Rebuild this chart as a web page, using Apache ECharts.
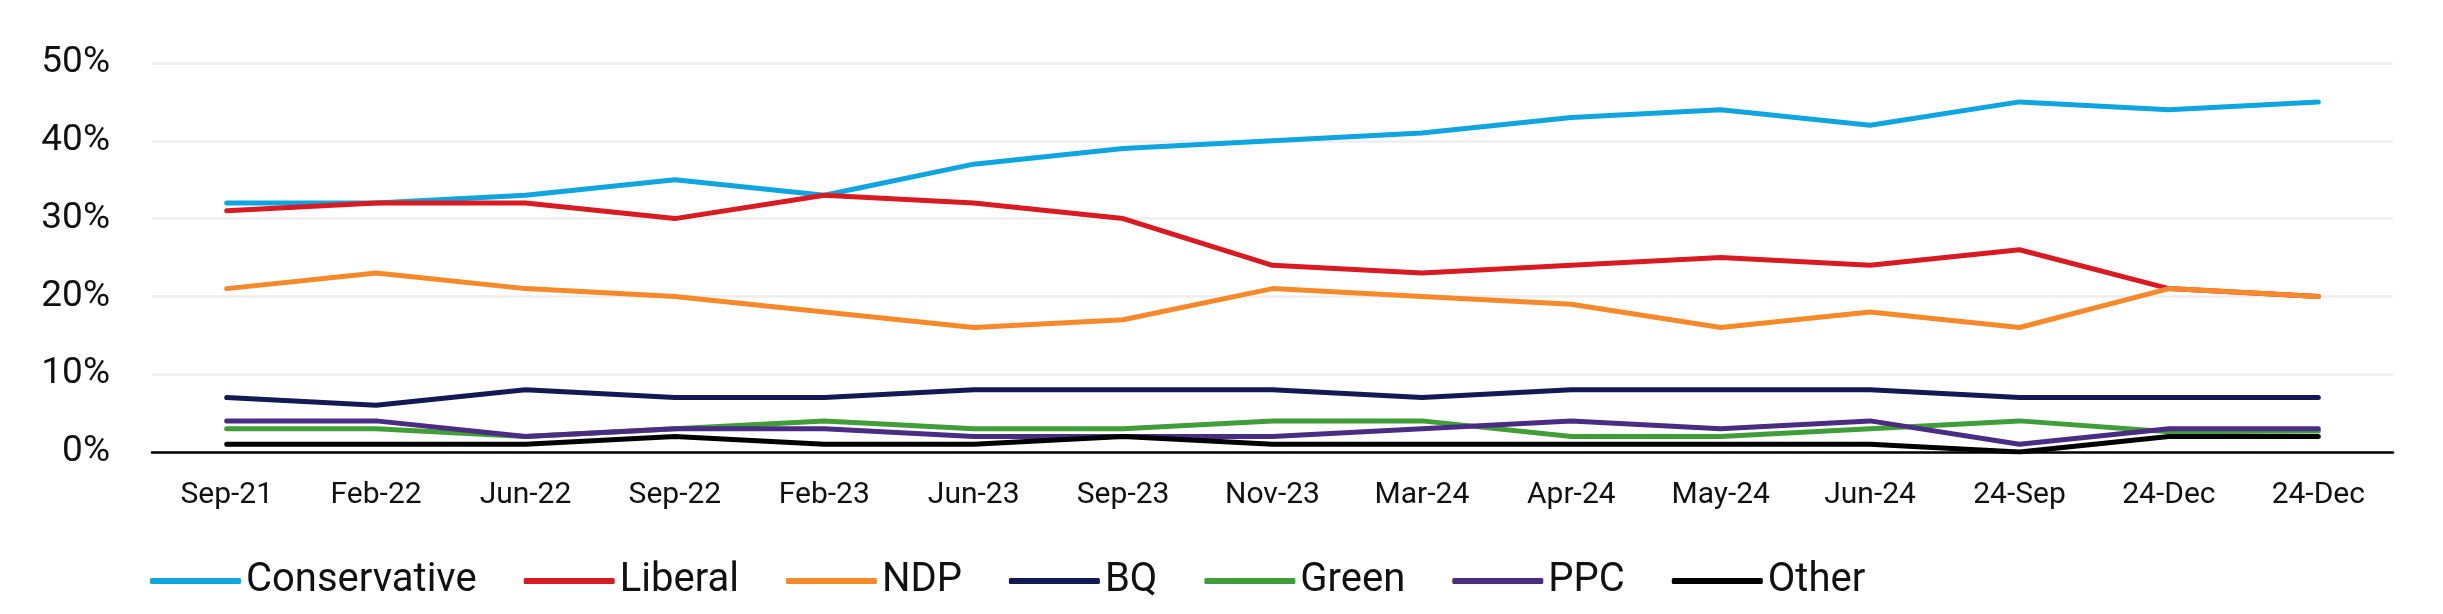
<!DOCTYPE html>
<html>
<head>
<meta charset="utf-8">
<script src="https://cdn.jsdelivr.net/npm/echarts@6/dist/echarts.min.js"></script>
<style>
  html, body { margin: 0; padding: 0; background: #ffffff; }
  #chart { width: 2443px; height: 614px; }
</style>
</head>
<body>
<div id="chart"></div>
<script>
const categories = ['Sep-21', 'Feb-22', 'Jun-22', 'Sep-22', 'Feb-23', 'Jun-23', 'Sep-23', 'Nov-23', 'Mar-24', 'Apr-24', 'May-24', 'Jun-24', '24-Sep', '24-Dec', '24-Dec'];
const conservative = [32, 32, 33, 35, 33, 37, 39, 40, 41, 43, 44, 42, 45, 44, 45];
const liberal      = [31, 32, 32, 30, 33, 32, 30, 24, 23, 24, 25, 24, 26, 21, 20];
const ndp          = [21, 23, 21, 20, 18, 16, 17, 21, 20, 19, 16, 18, 16, 21, 20];
const bq           = [7, 6, 8, 7, 7, 8, 8, 8, 7, 8, 8, 8, 7, 7, 7];
const green        = [3, 3, 2, 3, 4, 3, 3, 4, 4, 2, 2, 3, 4, 2.6, 2.7];
const ppc          = [4, 4, 2, 3, 3, 2, 2, 2, 3, 4, 3, 4, 1, 3, 3];
const other        = [1, 1, 1, 2, 1, 1, 2, 1, 1, 1, 1, 1, 0, 2, 2];
const yTicks = [0, 10, 20, 30, 40, 50];

const seriesDefs = [
  { name: 'Conservative', data: conservative, color: '#0ea5e1' },
  { name: 'Liberal', data: liberal, color: '#d91a21' },
  { name: 'NDP', data: ndp, color: '#f7892a' },
  { name: 'BQ', data: bq, color: '#111a55' },
  { name: 'Green', data: green, color: '#3f9e37' },
  { name: 'PPC', data: ppc, color: '#4b2c84' },
  { name: 'Other', data: other, color: '#000000' }
];

const FONT = 'Roboto, "Liberation Sans", sans-serif';
const chart = echarts.init(document.getElementById('chart'), null, { renderer: 'canvas' });
chart.setOption({
  animation: false,
  backgroundColor: '#ffffff',
  textStyle: { fontFamily: FONT },
  grid: { left: 152, right: 50, top: 63, bottom: 162, containLabel: false },
  legend: {
    show: true,
    orient: 'horizontal',
    left: 145,
    top: 556,
    width: 2200,
    icon: 'roundRect',
    itemWidth: 91,
    itemHeight: 6,
    itemGap: 47,
    textStyle: { fontSize: 40, color: '#111111', fontFamily: FONT },
    data: seriesDefs.map(s => s.name)
  },
  xAxis: {
    type: 'category',
    data: categories,
    boundaryGap: true,
    axisLine: { show: true, lineStyle: { color: '#000000', width: 2.5 } },
    axisTick: { show: false },
    axisLabel: { fontSize: 30, color: '#111111', margin: 28, interval: 0, fontFamily: FONT }
  },
  yAxis: {
    type: 'value',
    min: yTicks[0],
    max: yTicks[yTicks.length - 1],
    interval: 10,
    axisLine: { show: false },
    axisTick: { show: false },
    axisLabel: { fontSize: 37, color: '#111111', margin: 42, formatter: '{value}%', fontFamily: FONT },
    splitLine: { show: true, lineStyle: { color: '#eeeeee', width: 2.5 } }
  },
  series: seriesDefs.map(s => ({
    name: s.name,
    type: 'line',
    data: s.data,
    symbol: 'none',
    color: s.color,
    lineStyle: { color: s.color, width: 5, cap: 'round', join: 'round' },
    itemStyle: { color: s.color }
  }))
});
</script>
</body>
</html>
